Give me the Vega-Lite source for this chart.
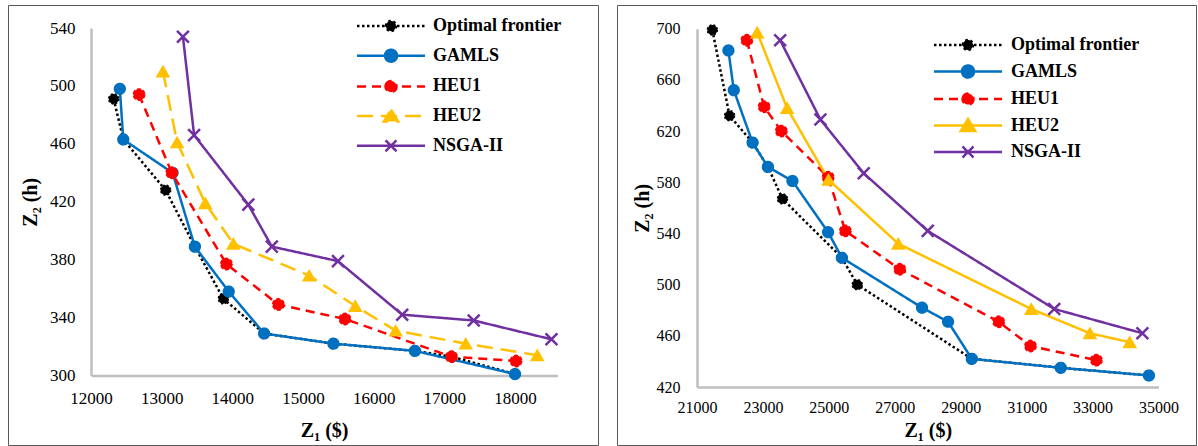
{
  "$schema": "https://vega.github.io/schema/vega-lite/v6.json",
  "padding": {"left": 7, "top": 4, "right": 0, "bottom": 0},
  "background": "white",
  "spacing": 17,
  "config": {
    "view": {"stroke": "#595959", "strokeWidth": 1},
    "font": "Liberation Serif",
    "axis": {"grid": false, "ticks": false, "labelFlush": false, "domainColor": "#BFBFBF", "domainWidth": 2.5, "labelFont": "Liberation Serif", "labelFontSize": 17, "labelColor": "#000000", "titleFont": "Liberation Serif", "titleFontSize": 20, "titleFontWeight": "bold", "titleColor": "#000000"}
  },
  "hconcat": [
    {
      "width": 590,
      "height": 440,
      "data": {"values": [
        {"series": "Optimal frontier", "z1": 12321, "z2": 491},
        {"series": "Optimal frontier", "z1": 12457, "z2": 463},
        {"series": "Optimal frontier", "z1": 13056, "z2": 428},
        {"series": "Optimal frontier", "z1": 13470, "z2": 389},
        {"series": "Optimal frontier", "z1": 13873, "z2": 353},
        {"series": "Optimal frontier", "z1": 14450, "z2": 329},
        {"series": "Optimal frontier", "z1": 15430, "z2": 322},
        {"series": "Optimal frontier", "z1": 16584, "z2": 317},
        {"series": "Optimal frontier", "z1": 17100, "z2": 313},
        {"series": "Optimal frontier", "z1": 18000, "z2": 301},
        {"series": "GAMLS", "z1": 12408, "z2": 498},
        {"series": "GAMLS", "z1": 12457, "z2": 463},
        {"series": "GAMLS", "z1": 13154, "z2": 440},
        {"series": "GAMLS", "z1": 13470, "z2": 389},
        {"series": "GAMLS", "z1": 13949, "z2": 358},
        {"series": "GAMLS", "z1": 14450, "z2": 329},
        {"series": "GAMLS", "z1": 15430, "z2": 322},
        {"series": "GAMLS", "z1": 16584, "z2": 317},
        {"series": "GAMLS", "z1": 18000, "z2": 301},
        {"series": "HEU1", "z1": 12680, "z2": 494},
        {"series": "HEU1", "z1": 13143, "z2": 440},
        {"series": "HEU1", "z1": 13916, "z2": 377},
        {"series": "HEU1", "z1": 14651, "z2": 349},
        {"series": "HEU1", "z1": 15593, "z2": 339},
        {"series": "HEU1", "z1": 17101, "z2": 313},
        {"series": "HEU1", "z1": 18015, "z2": 310},
        {"series": "HEU2", "z1": 13018, "z2": 510},
        {"series": "HEU2", "z1": 13219, "z2": 461},
        {"series": "HEU2", "z1": 13617, "z2": 419},
        {"series": "HEU2", "z1": 14014, "z2": 391},
        {"series": "HEU2", "z1": 15087, "z2": 369},
        {"series": "HEU2", "z1": 15740, "z2": 348},
        {"series": "HEU2", "z1": 16311, "z2": 331},
        {"series": "HEU2", "z1": 17302, "z2": 322},
        {"series": "HEU2", "z1": 18315, "z2": 314},
        {"series": "NSGA-II", "z1": 13301, "z2": 534},
        {"series": "NSGA-II", "z1": 13459, "z2": 466},
        {"series": "NSGA-II", "z1": 14226, "z2": 418},
        {"series": "NSGA-II", "z1": 14559, "z2": 389},
        {"series": "NSGA-II", "z1": 15495, "z2": 379},
        {"series": "NSGA-II", "z1": 16404, "z2": 342},
        {"series": "NSGA-II", "z1": 17416, "z2": 338},
        {"series": "NSGA-II", "z1": 18516, "z2": 325}
      ]},
      "resolve": {
        "scale": {"color": "independent", "fill": "independent", "stroke": "independent", "shape": "independent", "strokeDash": "independent", "size": "independent"},
        "legend": {"color": "independent", "fill": "independent", "stroke": "independent", "shape": "independent", "strokeDash": "independent", "size": "independent"}
      },
      "encoding": {
        "x": {"field": "z1", "type": "quantitative",
          "scale": {"domain": [12000, 18600], "range": [83, 549.4], "nice": false, "zero": false},
          "axis": {"values": [12000, 13000, 14000, 15000, 16000, 17000, 18000], "format": "d", "offset": -69.5, "title": "Z₁ ($)", "labelPadding": 15, "titlePadding": 14}},
        "y": {"field": "z2", "type": "quantitative",
          "scale": {"domain": [300, 540], "range": [370.5, 23], "nice": false, "zero": false},
          "axis": {"values": [300, 340, 380, 420, 460, 500, 540], "format": "d", "offset": -83, "title": "Z₂ (h)", "labelPadding": 16, "titlePadding": 9}}
      },
      "layer": [
        {
          "mark": {"type": "line", "strokeWidth": 2.5},
          "encoding": {
            "color": {"field": "series", "type": "nominal", "legend": null,
              "scale": {"domain": ["Optimal frontier", "GAMLS", "HEU1", "HEU2", "NSGA-II"], "range": ["#000000", "#0070C0", "#FF0000", "#FFC000", "#7030A0"]}},
            "strokeDash": {"field": "series", "type": "nominal", "legend": null,
              "scale": {"domain": ["Optimal frontier", "GAMLS", "HEU1", "HEU2", "NSGA-II"], "range": [[2.5, 2.5], [1, 0], [9, 6], [16, 8], [1, 0]]}}
          }
        },
        {
          "transform": [{"filter": "datum.series !== 'NSGA-II'"}],
          "mark": {"type": "point", "filled": true, "opacity": 1, "strokeWidth": 1.5},
          "encoding": {
            "fill": {"field": "series", "type": "nominal", "legend": null,
              "scale": {"domain": ["Optimal frontier", "GAMLS", "HEU1", "HEU2"], "range": ["#000000", "#0070C0", "#FF0000", "#FFC000"]}},
            "stroke": {"field": "series", "type": "nominal", "legend": null,
              "scale": {"domain": ["Optimal frontier", "GAMLS", "HEU1", "HEU2"], "range": ["#000000", "#0070C0", "#FF0000", "#FFC000"]}},
            "shape": {"field": "series", "type": "nominal", "legend": null,
              "scale": {"domain": ["Optimal frontier", "GAMLS", "HEU1", "HEU2"], "range": ["circle", "circle", "circle", "triangle-up"]}},
            "size": {"field": "series", "type": "nominal", "legend": null,
              "scale": {"domain": ["Optimal frontier", "GAMLS", "HEU1", "HEU2"], "range": [100, 144, 121, 210]}},
            "strokeDash": {"field": "series", "type": "nominal", "legend": null,
              "scale": {"domain": ["Optimal frontier", "GAMLS", "HEU1", "HEU2"], "range": [[2, 2], [1, 0], [4, 2], [1, 0]]}}
          }
        },
        {
          "transform": [{"filter": "datum.series === 'NSGA-II'"}],
          "mark": {"type": "point", "filled": false, "opacity": 1, "strokeWidth": 2.5, "color": "#7030A0", "shape": "M-1,-1L1,1M-1,1L1,-1", "size": 140},
          "encoding": {}
        },
        {
          "mark": {"type": "point", "filled": true, "opacity": 0, "strokeWidth": 2.5},
          "encoding": {
            "fill": {"field": "series", "type": "nominal",
              "scale": {"domain": ["Optimal frontier", "GAMLS", "HEU1", "HEU2", "NSGA-II"], "range": ["#000000", "#0070C0", "#FF0000", "#FFC000", "#7030A0"]},
              "legend": {"title": null, "orient": "none", "legendX": 349, "legendY": 9.5, "symbolSize": 400, "symbolStrokeWidth": 2.5, "symbolOffset": 22.5, "labelOffset": 30.5, "rowPadding": 7.7, "padding": 0, "labelFont": "Liberation Serif", "labelFontSize": 18, "labelFontWeight": "bold", "labelColor": "#000000", "symbolOpacity": 1, "labelLimit": 300}},
            "stroke": {"field": "series", "type": "nominal",
              "scale": {"domain": ["Optimal frontier", "GAMLS", "HEU1", "HEU2", "NSGA-II"], "range": ["#000000", "#0070C0", "#FF0000", "#FFC000", "#7030A0"]},
              "legend": {"title": null, "orient": "none", "legendX": 349, "legendY": 9.5, "symbolSize": 400, "symbolStrokeWidth": 2.5, "symbolOffset": 22.5, "labelOffset": 30.5, "rowPadding": 7.7, "padding": 0, "labelFont": "Liberation Serif", "labelFontSize": 18, "labelFontWeight": "bold", "labelColor": "#000000", "symbolOpacity": 1, "labelLimit": 300}},
            "shape": {"field": "series", "type": "nominal",
              "scale": {"domain": ["Optimal frontier", "GAMLS", "HEU1", "HEU2", "NSGA-II"], "range": [
                "M-3.4,0H3.4M-0.5,0A0.5,0.5,0,1,1,0.5,0A0.5,0.5,0,1,1,-0.5,0Z",
                "M-3.4,0H3.4M-0.6,0A0.6,0.6,0,1,1,0.6,0A0.6,0.6,0,1,1,-0.6,0Z",
                "M-3.4,0H3.4M-0.55,0A0.55,0.55,0,1,1,0.55,0A0.55,0.55,0,1,1,-0.55,0Z",
                "M-3.4,0H3.4M0,-0.65L0.72,0.55L-0.72,0.55Z",
                "M-3.4,0H3.4M-0.55,-0.55L0.55,0.55M-0.55,0.55L0.55,-0.55"]},
              "legend": {"title": null, "orient": "none", "legendX": 349, "legendY": 9.5, "symbolSize": 400, "symbolStrokeWidth": 2.5, "symbolOffset": 22.5, "labelOffset": 30.5, "rowPadding": 7.7, "padding": 0, "labelFont": "Liberation Serif", "labelFontSize": 18, "labelFontWeight": "bold", "labelColor": "#000000", "symbolOpacity": 1, "labelLimit": 300}},
            "strokeDash": {"field": "series", "type": "nominal",
              "scale": {"domain": ["Optimal frontier", "GAMLS", "HEU1", "HEU2", "NSGA-II"], "range": [[2.5, 2.5], [1, 0], [9, 6], [16, 8], [1, 0]]},
              "legend": {"title": null, "orient": "none", "legendX": 349, "legendY": 9.5, "symbolSize": 400, "symbolStrokeWidth": 2.5, "symbolOffset": 22.5, "labelOffset": 30.5, "rowPadding": 7.7, "padding": 0, "labelFont": "Liberation Serif", "labelFontSize": 18, "labelFontWeight": "bold", "labelColor": "#000000", "symbolOpacity": 1, "labelLimit": 300}}
          }
        }
      ]
    },
    {
      "width": 579,
      "height": 440,
      "data": {"values": [
        {"series": "Optimal frontier", "z1": 21465, "z2": 699},
        {"series": "Optimal frontier", "z1": 21988, "z2": 632},
        {"series": "Optimal frontier", "z1": 22686, "z2": 611},
        {"series": "Optimal frontier", "z1": 23151, "z2": 592},
        {"series": "Optimal frontier", "z1": 23593, "z2": 567},
        {"series": "Optimal frontier", "z1": 25395, "z2": 521},
        {"series": "Optimal frontier", "z1": 25860, "z2": 500},
        {"series": "Optimal frontier", "z1": 29337, "z2": 442},
        {"series": "Optimal frontier", "z1": 32035, "z2": 435},
        {"series": "Optimal frontier", "z1": 34709, "z2": 429},
        {"series": "GAMLS", "z1": 21953, "z2": 683},
        {"series": "GAMLS", "z1": 22116, "z2": 652},
        {"series": "GAMLS", "z1": 22686, "z2": 611},
        {"series": "GAMLS", "z1": 23151, "z2": 592},
        {"series": "GAMLS", "z1": 23895, "z2": 581},
        {"series": "GAMLS", "z1": 24977, "z2": 541},
        {"series": "GAMLS", "z1": 25395, "z2": 521},
        {"series": "GAMLS", "z1": 27826, "z2": 482},
        {"series": "GAMLS", "z1": 28616, "z2": 471},
        {"series": "GAMLS", "z1": 29337, "z2": 442},
        {"series": "GAMLS", "z1": 32035, "z2": 435},
        {"series": "GAMLS", "z1": 34709, "z2": 429},
        {"series": "HEU1", "z1": 22512, "z2": 691},
        {"series": "HEU1", "z1": 23035, "z2": 639},
        {"series": "HEU1", "z1": 23558, "z2": 620},
        {"series": "HEU1", "z1": 24977, "z2": 584},
        {"series": "HEU1", "z1": 25500, "z2": 542},
        {"series": "HEU1", "z1": 27151, "z2": 512},
        {"series": "HEU1", "z1": 30151, "z2": 471},
        {"series": "HEU1", "z1": 31116, "z2": 452},
        {"series": "HEU1", "z1": 33116, "z2": 441},
        {"series": "HEU2", "z1": 22826, "z2": 697},
        {"series": "HEU2", "z1": 23733, "z2": 638},
        {"series": "HEU2", "z1": 24988, "z2": 582},
        {"series": "HEU2", "z1": 27105, "z2": 532},
        {"series": "HEU2", "z1": 31140, "z2": 481},
        {"series": "HEU2", "z1": 32919, "z2": 462},
        {"series": "HEU2", "z1": 34128, "z2": 455},
        {"series": "NSGA-II", "z1": 23523, "z2": 691},
        {"series": "NSGA-II", "z1": 24744, "z2": 629},
        {"series": "NSGA-II", "z1": 26058, "z2": 587},
        {"series": "NSGA-II", "z1": 28000, "z2": 542},
        {"series": "NSGA-II", "z1": 31837, "z2": 481},
        {"series": "NSGA-II", "z1": 34512, "z2": 462}
      ]},
      "resolve": {
        "scale": {"color": "independent", "fill": "independent", "stroke": "independent", "shape": "independent", "strokeDash": "independent", "size": "independent"},
        "legend": {"color": "independent", "fill": "independent", "stroke": "independent", "shape": "independent", "strokeDash": "independent", "size": "independent"}
      },
      "encoding": {
        "x": {"field": "z1", "type": "quantitative",
          "scale": {"domain": [21000, 35000], "range": [80, 541.5], "nice": false, "zero": false},
          "axis": {"values": [21000, 23000, 25000, 27000, 29000, 31000, 33000, 35000], "format": "d", "offset": -58, "title": "Z₁ ($)", "labelPadding": 12, "titlePadding": 5, "labelFontSize": 16}},
        "y": {"field": "z2", "type": "quantitative",
          "scale": {"domain": [420, 700], "range": [382, 23.7], "nice": false, "zero": false},
          "axis": {"values": [420, 460, 500, 540, 580, 620, 660, 700], "format": "d", "offset": -80, "title": "Z₂ (h)", "labelPadding": 17, "titlePadding": 4, "labelFontSize": 16}}
      },
      "layer": [
        {
          "mark": {"type": "line", "strokeWidth": 2.5},
          "encoding": {
            "color": {"field": "series", "type": "nominal", "legend": null,
              "scale": {"domain": ["Optimal frontier", "GAMLS", "HEU1", "HEU2", "NSGA-II"], "range": ["#000000", "#0070C0", "#FF0000", "#FFC000", "#7030A0"]}},
            "strokeDash": {"field": "series", "type": "nominal", "legend": null,
              "scale": {"domain": ["Optimal frontier", "GAMLS", "HEU1", "HEU2", "NSGA-II"], "range": [[2.5, 2.5], [1, 0], [9, 6], [1, 0], [1, 0]]}}
          }
        },
        {
          "transform": [{"filter": "datum.series !== 'NSGA-II'"}],
          "mark": {"type": "point", "filled": true, "opacity": 1, "strokeWidth": 1.5},
          "encoding": {
            "fill": {"field": "series", "type": "nominal", "legend": null,
              "scale": {"domain": ["Optimal frontier", "GAMLS", "HEU1", "HEU2"], "range": ["#000000", "#0070C0", "#FF0000", "#FFC000"]}},
            "stroke": {"field": "series", "type": "nominal", "legend": null,
              "scale": {"domain": ["Optimal frontier", "GAMLS", "HEU1", "HEU2"], "range": ["#000000", "#0070C0", "#FF0000", "#FFC000"]}},
            "shape": {"field": "series", "type": "nominal", "legend": null,
              "scale": {"domain": ["Optimal frontier", "GAMLS", "HEU1", "HEU2"], "range": ["circle", "circle", "circle", "triangle-up"]}},
            "size": {"field": "series", "type": "nominal", "legend": null,
              "scale": {"domain": ["Optimal frontier", "GAMLS", "HEU1", "HEU2"], "range": [100, 144, 121, 210]}},
            "strokeDash": {"field": "series", "type": "nominal", "legend": null,
              "scale": {"domain": ["Optimal frontier", "GAMLS", "HEU1", "HEU2"], "range": [[2, 2], [1, 0], [4, 2], [1, 0]]}}
          }
        },
        {
          "transform": [{"filter": "datum.series === 'NSGA-II'"}],
          "mark": {"type": "point", "filled": false, "opacity": 1, "strokeWidth": 2.5, "color": "#7030A0", "shape": "M-1,-1L1,1M-1,1L1,-1", "size": 140},
          "encoding": {}
        },
        {
          "mark": {"type": "point", "filled": true, "opacity": 0, "strokeWidth": 2.5},
          "encoding": {
            "fill": {"field": "series", "type": "nominal",
              "scale": {"domain": ["Optimal frontier", "GAMLS", "HEU1", "HEU2", "NSGA-II"], "range": ["#000000", "#0070C0", "#FF0000", "#FFC000", "#7030A0"]},
              "legend": {"title": null, "orient": "none", "legendX": 317, "legendY": 28.5, "symbolSize": 400, "symbolStrokeWidth": 2.5, "symbolOffset": 22.5, "labelOffset": 31.5, "rowPadding": 4.5, "padding": 0, "labelFont": "Liberation Serif", "labelFontSize": 18, "labelFontWeight": "bold", "labelColor": "#000000", "symbolOpacity": 1, "labelLimit": 300}},
            "stroke": {"field": "series", "type": "nominal",
              "scale": {"domain": ["Optimal frontier", "GAMLS", "HEU1", "HEU2", "NSGA-II"], "range": ["#000000", "#0070C0", "#FF0000", "#FFC000", "#7030A0"]},
              "legend": {"title": null, "orient": "none", "legendX": 317, "legendY": 28.5, "symbolSize": 400, "symbolStrokeWidth": 2.5, "symbolOffset": 22.5, "labelOffset": 31.5, "rowPadding": 4.5, "padding": 0, "labelFont": "Liberation Serif", "labelFontSize": 18, "labelFontWeight": "bold", "labelColor": "#000000", "symbolOpacity": 1, "labelLimit": 300}},
            "shape": {"field": "series", "type": "nominal",
              "scale": {"domain": ["Optimal frontier", "GAMLS", "HEU1", "HEU2", "NSGA-II"], "range": [
                "M-3.4,0H3.4M-0.5,0A0.5,0.5,0,1,1,0.5,0A0.5,0.5,0,1,1,-0.5,0Z",
                "M-3.4,0H3.4M-0.6,0A0.6,0.6,0,1,1,0.6,0A0.6,0.6,0,1,1,-0.6,0Z",
                "M-3.4,0H3.4M-0.55,0A0.55,0.55,0,1,1,0.55,0A0.55,0.55,0,1,1,-0.55,0Z",
                "M-3.4,0H3.4M0,-0.65L0.72,0.55L-0.72,0.55Z",
                "M-3.4,0H3.4M-0.55,-0.55L0.55,0.55M-0.55,0.55L0.55,-0.55"]},
              "legend": {"title": null, "orient": "none", "legendX": 317, "legendY": 28.5, "symbolSize": 400, "symbolStrokeWidth": 2.5, "symbolOffset": 22.5, "labelOffset": 31.5, "rowPadding": 4.5, "padding": 0, "labelFont": "Liberation Serif", "labelFontSize": 18, "labelFontWeight": "bold", "labelColor": "#000000", "symbolOpacity": 1, "labelLimit": 300}},
            "strokeDash": {"field": "series", "type": "nominal",
              "scale": {"domain": ["Optimal frontier", "GAMLS", "HEU1", "HEU2", "NSGA-II"], "range": [[2.5, 2.5], [1, 0], [9, 6], [1, 0], [1, 0]]},
              "legend": {"title": null, "orient": "none", "legendX": 317, "legendY": 28.5, "symbolSize": 400, "symbolStrokeWidth": 2.5, "symbolOffset": 22.5, "labelOffset": 31.5, "rowPadding": 4.5, "padding": 0, "labelFont": "Liberation Serif", "labelFontSize": 18, "labelFontWeight": "bold", "labelColor": "#000000", "symbolOpacity": 1, "labelLimit": 300}}
          }
        }
      ]
    }
  ]
}
